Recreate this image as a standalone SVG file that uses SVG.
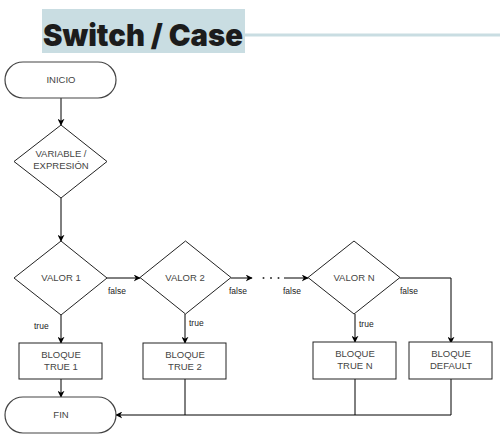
<svg xmlns="http://www.w3.org/2000/svg" width="500" height="438" viewBox="0 0 500 438">
<defs>
<marker id="arr" viewBox="0 0 10 10" refX="9" refY="5" markerWidth="7" markerHeight="7" orient="auto" markerUnits="userSpaceOnUse">
<path d="M0,0 L10,5 L0,10 L3,5 z" fill="#000"/>
</marker>
<style>
.shape{fill:#fff;stroke:#222;stroke-width:1}
.term{fill:#fff;stroke:#444;stroke-width:1.2}
.t{font-family:"Liberation Sans",Arial,sans-serif;font-size:9.5px;fill:#444;text-anchor:middle}
.lbl{font-family:"Liberation Sans",Arial,sans-serif;font-size:8.5px;fill:#222}
.c{fill:none;stroke:#000;stroke-width:1}
.ca{fill:none;stroke:#000;stroke-width:1;marker-end:url(#arr)}
</style>
</defs>
<rect width="500" height="438" fill="#fff"/>
<g id="title">
<rect x="42" y="9" width="203" height="44" fill="#c9dde2"/>
<line x1="245" y1="35" x2="500" y2="35" stroke="#c9dde2" stroke-width="3"/>
<text x="43" y="46" font-family="Inter,'Open Sans',sans-serif" font-weight="900" font-size="30" fill="#1c1c1c" textLength="200" lengthAdjust="spacingAndGlyphs">Switch / Case</text>
</g>
<g id="connectors">
<path class="ca" d="M61,98 V125"/>
<path class="ca" d="M61,198 V241"/>
<path class="ca" d="M107,278 H140"/>
<path class="ca" d="M231,278 H252"/>
<path class="ca" d="M284,278 H308"/>
<path class="ca" d="M400,278 H451 V343"/>
<path class="ca" d="M61,315 V343"/>
<path class="ca" d="M185,314 V343"/>
<path class="ca" d="M355,314 V342"/>
<path class="ca" d="M61,379 V397"/>
<path class="c" d="M185,379 V415"/>
<path class="c" d="M355,379 V415"/>
<path class="ca" d="M451,379 V415 H116"/>
<circle cx="263.5" cy="278" r="1" fill="#333"/>
<circle cx="271" cy="278" r="1" fill="#333"/>
<circle cx="278.5" cy="278" r="1" fill="#333"/>
<text class="lbl" x="108" y="294">false</text>
<text class="lbl" x="229" y="294">false</text>
<text class="lbl" x="283" y="294">false</text>
<text class="lbl" x="400" y="294">false</text>
<text class="lbl" x="34" y="329">true</text>
<text class="lbl" x="189" y="326">true</text>
<text class="lbl" x="359" y="327">true</text>
</g>
<g id="inicio">
<rect class="term" x="5" y="62" width="111" height="36" rx="18"/>
<text class="t" x="61" y="83">INICIO</text>
</g>
<g id="variable">
<polygon class="shape" points="61,125 107,161.5 61,198 14,161.5"/>
<text class="t" x="61" y="157">VARIABLE /</text>
<text class="t" x="61" y="169">EXPRESIÓN</text>
</g>
<g id="valor1">
<polygon class="shape" points="61,241 107,278 61,315 14,278"/>
<text class="t" x="61" y="281">VALOR 1</text>
</g>
<g id="valor2">
<polygon class="shape" points="185.5,241 231,277.5 185.5,314 140,277.5"/>
<text class="t" x="185" y="281">VALOR 2</text>
</g>
<g id="valorN">
<polygon class="shape" points="354,241 400,277.5 354,314 308,277.5"/>
<text class="t" x="354" y="281">VALOR N</text>
</g>
<g id="bloque1">
<rect class="shape" x="19" y="343" width="83" height="36"/>
<text class="t" x="61" y="358">BLOQUE</text>
<text class="t" x="61" y="370">TRUE 1</text>
</g>
<g id="bloque2">
<rect class="shape" x="143" y="343" width="83" height="36"/>
<text class="t" x="185" y="358">BLOQUE</text>
<text class="t" x="185" y="370">TRUE 2</text>
</g>
<g id="bloqueN">
<rect class="shape" x="313" y="342" width="83" height="37"/>
<text class="t" x="355" y="357">BLOQUE</text>
<text class="t" x="355" y="369">TRUE N</text>
</g>
<g id="bloqueDefault">
<rect class="shape" x="409" y="342" width="83" height="37"/>
<text class="t" x="451" y="357">BLOQUE</text>
<text class="t" x="451" y="369">DEFAULT</text>
</g>
<g id="fin">
<rect class="term" x="5" y="397" width="111" height="36" rx="18"/>
<text class="t" x="61" y="418">FIN</text>
</g>
</svg>
